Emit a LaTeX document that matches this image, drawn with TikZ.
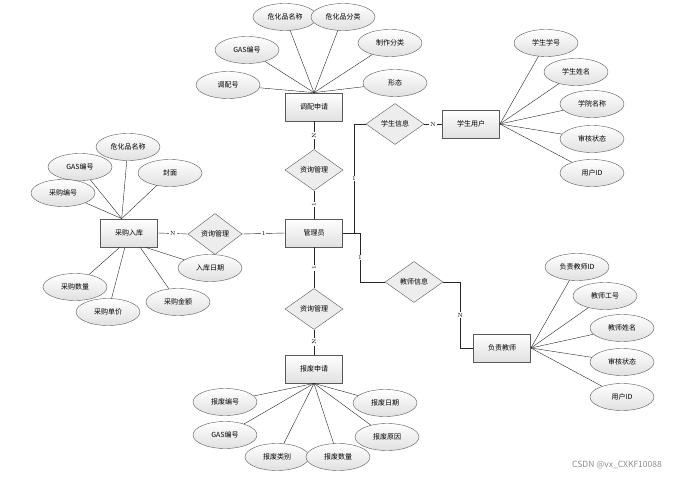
\documentclass[tikz,border=0pt]{standalone}
\usepackage{fontspec}
\newfontfamily\cjk{Noto Sans CJK SC}
\usetikzlibrary{shapes.geometric, positioning}

\begin{document}
\begin{tikzpicture}
    [
        x=1pt, y=-1pt,
        every node/.style={font=\cjk\fontsize{7}{8}\selectfont},
        entity/.style={draw=black!65, rectangle, minimum width=57pt, minimum height=28pt, top color=white, bottom color=black!12, thick},
        attr/.style={draw=black!65, ellipse, minimum width=64pt, minimum height=27pt, inner sep=1pt, top color=white, bottom color=black!12},
        rel/.style={draw=black!65, diamond, inner sep=1pt, minimum width=58pt, minimum height=41pt, fill=black!7},
        card/.style={font=\fontsize{6}{7}\selectfont, inner sep=1pt, fill=white},
        link/.style={draw=black!85}
    ]
        \useasboundingbox (0,0) rectangle (693,478);
        % =========================================================================
        % NODES
        % =========================================================================
        % --- Centre column ---
        \node [entity] (transfer) at (314,107) {调配申请};
        \node [rel] (tRel) at (314,170) {资询管理};
        \node [entity] (admin) at (314,233) {管理员};
        \node [rel] (dRel) at (314,309) {资询管理};
        \node [entity] (scrap) at (314,369) {报废申请};
        % --- Left ---
        \node [entity] (purchase) at (129,233) {采购入库};
        \node [rel, minimum width=54pt] (pRel) at (215,234) {资询管理};
        % --- Right ---
        \node [rel] (sRel) at (395,124) {学生信息};
        \node [entity] (student) at (471,124) {学生用户};
        \node [rel] (eRel) at (414,282) {教师信息};
        \node [entity] (teacher) at (502,348) {负责教师};
        % --- Attributes of transfer ---
        \node [attr] (t1) at (285,17) {危化品名称};
        \node [attr] (t2) at (343,17) {危化品分类};
        \node [attr] (t3) at (247,50) {GAS编号};
        \node [attr] (t4) at (390,43) {制作分类};
        \node [attr] (t5) at (228,85) {调配号};
        \node [attr] (t6) at (395,83) {形态};
        % --- Attributes of purchase ---
        \node [attr] (p1) at (128,147) {危化品名称};
        \node [attr] (p2) at (80,167) {GAS编号};
        \node [attr] (p3) at (170,173) {封面};
        \node [attr] (p4) at (63,193) {采购编号};
        \node [attr] (p5) at (210,268) {入库日期};
        \node [attr] (p6) at (75,287) {采购数量};
        \node [attr] (p7) at (108,312) {采购单价};
        \node [attr] (p8) at (178,302) {采购金额};
        % --- Attributes of student ---
        \node [attr] (s1) at (546,43) {学生学号};
        \node [attr] (s2) at (576,72) {学生姓名};
        \node [attr] (s3) at (592,104) {学院名称};
        \node [attr] (s4) at (592,139) {审核状态};
        \node [attr] (s5) at (592,173) {用户ID};
        % --- Attributes of teacher ---
        \node [attr] (e1) at (577,267) {负责教师ID};
        \node [attr] (e2) at (605,296) {教师工号};
        \node [attr] (e3) at (622,328) {教师姓名};
        \node [attr] (e4) at (622,362) {审核状态};
        \node [attr] (e5) at (622,397) {用户ID};
        % --- Attributes of scrap ---
        \node [attr] (d1) at (225,402) {报废编号};
        \node [attr] (d2) at (225,435) {GAS编号};
        \node [attr] (d3) at (277,457) {报废类别};
        \node [attr] (d4) at (338,457) {报废数量};
        \node [attr] (d5) at (385,403) {报废日期};
        \node [attr] (d6) at (387,437) {报废原因};
        % --- Watermark ---
        \node [text=black!45, font=\cjk\fontsize{8.5}{10}\selectfont] (mark) at (617,465) {CSDN @vx\_CXKF10088};

        % =========================================================================
        % PATHS
        % =========================================================================
        % --- Relations ---
        \draw [link] (tRel.north) -- node [card, rotate=90] {N} (transfer.south);
        \draw [link] (admin.north) -- node [card, rotate=90] {1} (tRel.south);
        \draw [link] (admin.south) -- node [card, rotate=90] {1} (dRel.north);
        \draw [link] (dRel.south) -- node [card, rotate=90] {N} (scrap.north);
        \draw [link] (purchase.east) -- node [card] {N} (pRel.west);
        \draw [link] (pRel.east) -- node [card] {1} (admin.west);
        \draw [link] (admin.east) -- ++(11,0) |- node [card, pos=0.25] {1} (sRel.west);
        \draw [link] (sRel.east) -- node [card] {N} (student.west);
        \draw [link] (admin.east) -- ++(17,0) |- node [card, pos=0.25] {1} (eRel.west);
        \draw [link] (eRel.east) -- ++(17,0) |- node [card, pos=0.25] {N} (teacher.west);
        % --- Attributes ---
        \foreach \a in {t1,t2,t3,t4,t5,t6} \draw [link] (\a) -- (transfer.north);
        \foreach \a in {p1,p2,p3,p4} \draw [link] (\a) -- (purchase.117);
        \draw [link] (p5) -- (purchase.319);
        \draw [link] (p6) -- (purchase.237);
        \draw [link] (p7) -- (purchase.254);
        \draw [link] (p8) -- (purchase.308);
        \foreach \a in {s1,s2,s3,s4,s5} \draw [link] (\a) -- (student.east);
        \foreach \a in {e1,e2,e3,e4,e5} \draw [link] (\a) -- (teacher.east);
        \foreach \a in {d1,d2,d3,d4,d5,d6} \draw [link] (\a) -- (scrap.south);

\end{tikzpicture}
\end{document}
